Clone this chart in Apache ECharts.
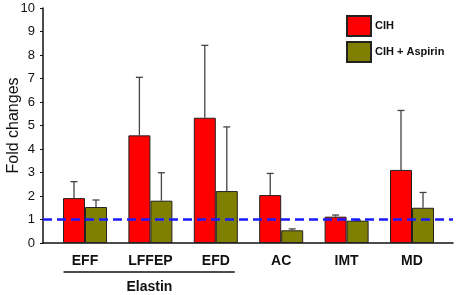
<!DOCTYPE html>
<html>
<head>
<meta charset="utf-8">
<script src="https://cdn.jsdelivr.net/npm/echarts@6/dist/echarts.min.js"></script>
<style>
  html, body { margin: 0; padding: 0; background: #fff; }
  #main { width: 459px; height: 295px; }
</style>
</head>
<body>
<div id="main"></div>
<script>
// data
var categories = ['EFF', 'LFFEP', 'EFD', 'AC', 'IMT', 'MD'];
var cihMean = [1.91, 4.58, 5.33, 2.04, 1.12, 3.11];
var cihUpper = [2.61, 7.05, 8.41, 2.96, 1.19, 5.64];
var aspMean = [1.53, 1.80, 2.21, 0.54, 0.95, 1.50];
var aspUpper = [1.83, 2.99, 4.94, 0.60, 0.97, 2.15];
var refLevel = 1;
var groupLabel = 'Elastin';
var groupFrom = 0, groupTo = 2;

var FONT = 'Liberation Sans, Arial, sans-serif';
var BAR_W = 22;

function errSeries(name, upper, mean, side) {
    var data = upper.map(function (u, i) { return [i, mean[i], u]; });
    return {
        type: 'custom',
        name: name + ' err',
        xAxisIndex: 0, yAxisIndex: 0,
        z: 5,
        data: data,
        renderItem: function (params, api) {
            var p0 = api.coord([api.value(0), api.value(1)]);
            var p1 = api.coord([api.value(0), api.value(2)]);
            var x = p0[0] + side * BAR_W / 2;
            return {
                type: 'group',
                children: [
                    { type: 'line', shape: { x1: x, y1: p0[1], x2: x, y2: p1[1] },
                      style: { stroke: '#444', lineWidth: 1.3 } },
                    { type: 'line', shape: { x1: x - 3.5, y1: p1[1], x2: x + 3.5, y2: p1[1] },
                      style: { stroke: '#444', lineWidth: 1.3 } }
                ]
            };
        }
    };
}

var myChart = echarts.init(document.getElementById('main'));

var option = {
    animation: false,
    textStyle: { fontFamily: FONT },
    legend: {
        data: ['CIH', 'CIH + Aspirin'],
        orient: 'vertical',
        left: 341, top: 10,
        itemWidth: 24, itemHeight: 20, itemGap: 4,
        icon: 'rect',
        textStyle: { fontFamily: FONT, fontSize: 11, fontWeight: 'bold', color: '#111', padding: [0, 0, 0, -1] }
    },
    grid: [
        { left: 52.3, width: 392.4, top: 8, bottom: 52, outerBoundsMode: 'none', containLabel: false },
        { left: 43, right: 6, top: 8, bottom: 52, outerBoundsMode: 'none', containLabel: false }
    ],
    xAxis: [
        {
            type: 'category', gridIndex: 0, data: categories,
            axisLine: { show: false }, axisTick: { show: false },
            axisLabel: { margin: 11, fontSize: 14, fontWeight: 'bold', color: '#111', fontFamily: FONT }
        },
        {
            type: 'value', gridIndex: 1, min: 0, max: 1,
            axisLine: { show: true, lineStyle: { color: '#111', width: 1.5 } },
            axisTick: { show: false }, axisLabel: { show: false }, splitLine: { show: false }
        }
    ],
    yAxis: [
        { type: 'value', gridIndex: 0, min: 0, max: 10, show: false },
        {
            type: 'value', gridIndex: 1, min: 0, max: 10, interval: 1,
            name: 'Fold changes', nameLocation: 'middle', nameGap: 21, nameMoveOverlap: false,
            nameTextStyle: { fontSize: 16, color: '#111', fontFamily: FONT },
            axisLine: { show: true, lineStyle: { color: '#111', width: 1.5 } },
            axisTick: { show: true, length: 3, lineStyle: { color: '#111' } },
            axisLabel: { margin: 8, fontSize: 13, color: '#111', fontFamily: FONT },
            splitLine: { show: false }
        }
    ],
    series: [
        {
            name: 'CIH', type: 'bar', xAxisIndex: 0, yAxisIndex: 0,
            barWidth: BAR_W, barGap: '0%', data: cihMean,
            itemStyle: { color: '#ff0000', borderColor: '#222', borderWidth: 1 }
        },
        {
            name: 'CIH + Aspirin', type: 'bar', xAxisIndex: 0, yAxisIndex: 0,
            barWidth: BAR_W, barGap: '0%', data: aspMean,
            itemStyle: { color: '#808000', borderColor: '#222', borderWidth: 1 }
        },
        errSeries('CIH', cihUpper, cihMean, -1),
        errSeries('CIH + Aspirin', aspUpper, aspMean, 1),
        {
            type: 'line', xAxisIndex: 1, yAxisIndex: 1, z: 6,
            symbol: 'none', silent: true,
            data: [[0, refLevel], [1, refLevel]],
            lineStyle: { color: '#1a1aff', width: 2.6, type: [9, 5] }
        }
    ]
};

myChart.setOption(option);

// "Elastin" group bracket under the first three categories
var xa = myChart.convertToPixel({ xAxisIndex: 0 }, categories[groupFrom]);
var xb = myChart.convertToPixel({ xAxisIndex: 0 }, categories[groupTo]);
var y0 = myChart.convertToPixel({ yAxisIndex: 0 }, 0);
myChart.setOption({
    graphic: [
        { type: 'line', shape: { x1: xa - 21.5, y1: y0 + 29, x2: xb + 19, y2: y0 + 29 },
          style: { stroke: '#111', lineWidth: 1.5 } },
        { type: 'text', x: (xa + xb) / 2 - 1, y: y0 + 44,
          style: { text: groupLabel, font: 'bold 14px ' + FONT, fill: '#111',
                   textAlign: 'center', textVerticalAlign: 'middle' } }
    ]
});

window.addEventListener('resize', myChart.resize);
</script>
</body>
</html>
